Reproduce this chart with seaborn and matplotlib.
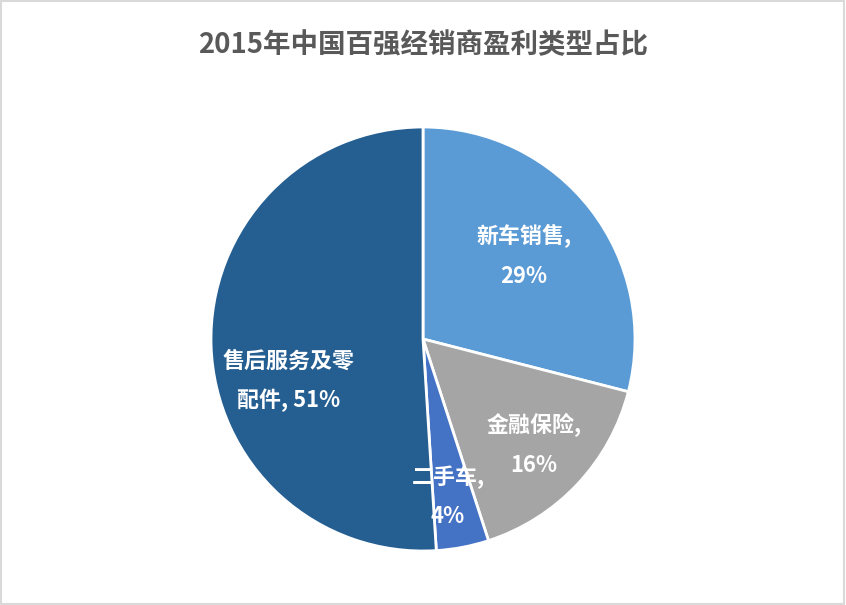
import matplotlib
matplotlib.use('Agg')
import matplotlib.pyplot as plt
import seaborn as sns
from matplotlib.patches import Rectangle

# data
categories = ['新车销售', '金融保险', '二手车', '售后服务及零配件']
shares     = [29, 16, 4, 51]
label_text = ['新车销售,\n29%', '金融保险,\n16%', '二手车,\n4%', '售后服务及零\n配件, 51%']
title      = '2015年中国百强经销商盈利类型占比'

colors = sns.color_palette(['#5B9BD5', '#A5A5A5', '#4472C4', '#255E91'])

# label centres in pie units (radius = 1), Excel "best fit" style
label_pos = [(0.476, 0.392), (0.524, -0.50), (0.118, -0.745), (-0.632, -0.198)]

sns.set_theme(style='white')
plt.rcParams['font.family'] = ['Noto Sans CJK SC', 'DejaVu Sans']

W, H = 846, 605
fig = plt.figure(figsize=(W / 100, H / 100), dpi=100)
cx, cy, r = 423, 339, 212
ax = fig.add_axes([(cx - r) / W, (H - cy - r) / H, 2 * r / W, 2 * r / H])

wedges, _ = ax.pie(
    shares,
    colors=colors,
    startangle=90,
    counterclock=False,
    wedgeprops=dict(edgecolor='white', linewidth=2),
)
for txt, (x, y) in zip(label_text, label_pos):
    ax.text(x, y, txt, ha='center', va='center', color='white',
            fontsize=15.8, fontweight='bold', linespacing=1.9)
ax.set_xlim(-1, 1)
ax.set_ylim(-1, 1)
ax.set_aspect('equal')
ax.axis('off')

fig.text(0.5, 1 - 45 / H, title, ha='center', va='center',
         fontsize=19.8, fontweight='bold', color='#595959')

fig.patches.append(Rectangle((0.001, 0.002), 0.997, 0.996, transform=fig.transFigure,
                             fill=False, edgecolor='#D9D9D9', linewidth=1.5))

fig.savefig('out.png', dpi=100)
plt.close(fig)
